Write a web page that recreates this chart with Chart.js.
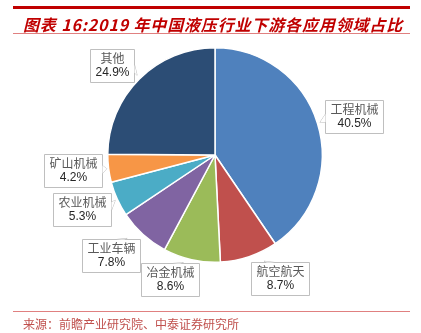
<!DOCTYPE html>
<html>
<head>
<meta charset="utf-8">
<script src="https://cdn.jsdelivr.net/npm/chart.js@4"></script>
<style>
  html, body { margin: 0; padding: 0; background: #fff; }
  #wrap { position: relative; width: 421px; height: 333px; overflow: hidden; }
  #pie { position: absolute; left: 0; top: 0; }
  .rule { position: absolute; left: 13px; width: 397px; }
  #title {
    position: absolute; left: 23px; top: 12px; white-space: nowrap;
    font: italic bold 16px "Noto Sans CJK SC", sans-serif; color: #c00000; letter-spacing: 0.85px;
  }
  #source {
    position: absolute; left: 23px; top: 315px; white-space: nowrap;
    font: 12px "Noto Sans CJK SC", sans-serif; color: #c0504d; letter-spacing: 0px;
  }
</style>
</head>
<body>
<div id="wrap">
  <canvas id="pie" width="421" height="333"></canvas>
  <div class="rule" style="top:6px;height:3px;background:#c00000"></div>
  <div id="title">图表 16:2019 年中国液压行业下游各应用领域占比</div>
  <div class="rule" style="top:33px;height:1px;background:#e08080"></div>
  <div class="rule" style="top:311px;height:1px;background:#e08080"></div>
  <div id="source">来源：前瞻产业研究院、中泰证券研究所</div>
</div>
<script>
const categories = ['工程机械', '航空航天', '冶金机械', '工业车辆', '农业机械', '矿山机械', '其他'];
const shares = [40.5, 8.7, 8.6, 7.8, 5.3, 4.2, 24.9];
const colors = ['#4f81bd', '#c0504d', '#9bbb59', '#8064a2', '#4bacc6', '#f79646', '#2c4d75'];

// callout box centres (layout only)
const boxCentres = [[354, 116], [280, 278], [170, 279], [111, 255], [82, 209], [73, 170], [112, 65]];

const calloutPlugin = {
  id: 'callouts',
  afterDatasetsDraw(chart) {
    const ctx = chart.ctx;
    const meta = chart.getDatasetMeta(0);
    ctx.save();
    meta.data.forEach((arc, i) => {
      const p = arc.getProps(['x', 'y', 'startAngle', 'endAngle', 'outerRadius']);
      const mid = (p.startAngle + p.endAngle) / 2;
      const ax = p.x + Math.cos(mid) * (p.outerRadius + 2);
      const ay = p.y + Math.sin(mid) * (p.outerRadius + 2);
      const [cx, cy] = boxCentres[i];
      const name = categories[i];
      const pct = shares[i].toFixed(1) + '%';
      ctx.font = '12px "Noto Sans CJK SC", sans-serif';
      const nw = ctx.measureText(name).width;
      ctx.font = '12px "Liberation Sans", Arial, sans-serif';
      const pw = ctx.measureText(pct).width;
      const w = Math.round(Math.max(nw, pw) + 10), h = 33;
      const x0 = Math.round(cx - w / 2), y0 = Math.round(cy - h / 2);
      // pointer toward slice
      const dx = ax - cx, dy = ay - cy;
      let b1, b2;
      if (Math.abs(dx) / w > Math.abs(dy) / h) {
        const ex = dx > 0 ? x0 + w + 0.5 : x0 + 0.5;
        const ey = Math.max(y0 + 5, Math.min(y0 + h - 5, cy + dy * 0.3));
        b1 = [ex, ey - 4]; b2 = [ex, ey + 4];
      } else {
        const ey = dy > 0 ? y0 + h + 0.5 : y0 + 0.5;
        const ex = Math.max(x0 + 6, Math.min(x0 + w - 6, cx + dx * 0.3));
        b1 = [ex - 4, ey]; b2 = [ex + 4, ey];
      }
      const tx = (b1[0] + b2[0]) / 2, ty = (b1[1] + b2[1]) / 2;
      const len = Math.hypot(ax - tx, ay - ty);
      const tip = [tx + (ax - tx) / len * Math.min(len, 7), ty + (ay - ty) / len * Math.min(len, 7)];
      ctx.fillStyle = '#ffffff';
      ctx.strokeStyle = '#bfbfbf';
      ctx.lineWidth = 1;
      ctx.beginPath();
      ctx.rect(x0 + 0.5, y0 + 0.5, w, h);
      ctx.fill();
      ctx.stroke();
      ctx.beginPath();
      ctx.moveTo(b1[0], b1[1]);
      ctx.lineTo(tip[0], tip[1]);
      ctx.lineTo(b2[0], b2[1]);
      ctx.stroke();
      ctx.beginPath();
      ctx.moveTo(b1[0], b1[1]);
      ctx.lineTo(tip[0], tip[1]);
      ctx.lineTo(b2[0], b2[1]);
      ctx.closePath();
      ctx.fill();
      ctx.textAlign = 'center';
      ctx.textBaseline = 'middle';
      ctx.fillStyle = '#595959';
      ctx.font = '12px "Noto Sans CJK SC", sans-serif';
      ctx.fillText(name, x0 + w / 2 + 0.5, cy - 7);
      ctx.fillStyle = '#262626';
      ctx.font = '12px "Liberation Sans", Arial, sans-serif';
      ctx.fillText(pct, x0 + w / 2 + 0.5, cy + 8);
    });
    ctx.restore();
  }
};

new Chart(document.getElementById('pie'), {
  type: 'pie',
  data: {
    labels: categories,
    datasets: [{
      data: shares,
      backgroundColor: colors,
      borderColor: '#ffffff',
      borderWidth: 1.5
    }]
  },
  options: {
    responsive: false,
    animation: false,
    layout: { padding: { left: 107, right: 98, top: 47, bottom: 70 } },
    plugins: { legend: { display: false }, tooltip: { enabled: false } }
  },
  plugins: [calloutPlugin]
});
</script>
</body>
</html>
